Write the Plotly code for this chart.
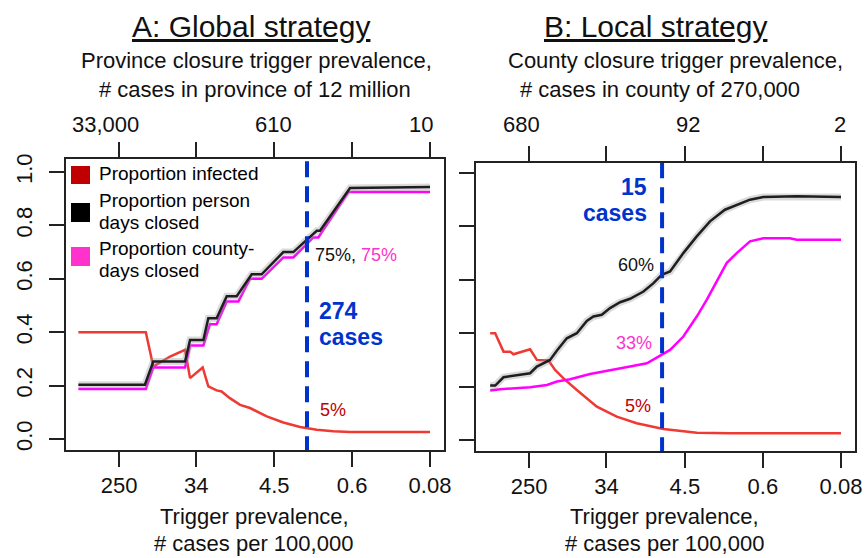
import plotly.graph_objects as go

FONT = "Liberation Sans, Arial, sans-serif"
W, H = 865, 558

# ---------------- data (trigger prevalence, # cases per 100,000) ----------------
# Panel A: global strategy
a_inf_x = [716, 125, 103, 66.8, 45.3, 39.8, 28.7, 24.8, 20.0, 17.6, 14.2, 10.9, 8.43, 5.47, 3.56, 2.31, 1.50, 0.977, 0.634, 0.08]
a_inf_y = [0.40, 0.40, 0.271, 0.309, 0.334, 0.228, 0.268, 0.197, 0.182, 0.178, 0.153, 0.128, 0.116, 0.085, 0.062, 0.045, 0.035, 0.029, 0.026, 0.026]

a_pd_x = [716, 128, 103, 45.3, 39.8, 28.2, 24.8, 20.0, 15.4, 11.9, 8.07, 6.24, 3.56, 2.75, 1.50, 1.38, 0.634, 0.08]
a_pd_y = [0.203, 0.203, 0.29, 0.29, 0.371, 0.371, 0.452, 0.452, 0.535, 0.535, 0.617, 0.617, 0.70, 0.70, 0.78, 0.78, 0.94, 0.944]

a_cd_x = [716, 125, 103, 45.3, 39.8, 28.2, 23.8, 20.0, 15.4, 11.4, 8.43, 6.24, 3.56, 2.75, 1.64, 1.44, 0.662, 0.08]
a_cd_y = [0.187, 0.187, 0.268, 0.268, 0.35, 0.35, 0.43, 0.43, 0.515, 0.515, 0.60, 0.60, 0.68, 0.68, 0.755, 0.755, 0.925, 0.925]

# Panel B: local strategy
b_inf_x = [684, 601, 485, 408, 375, 290, 244, 205, 173, 152, 128, 103, 73.1, 43.6, 26.1, 15.6, 7.83, 3.31, 1.40, 0.08]
b_inf_y = [0.40, 0.40, 0.331, 0.331, 0.321, 0.331, 0.34, 0.30, 0.30, 0.2975, 0.2625, 0.231, 0.1875, 0.125, 0.0875, 0.0625, 0.041, 0.0275, 0.025, 0.025]

b_pd_x = [684, 601, 485, 391, 244, 205, 166, 146, 122, 94.7, 73.1, 56.5, 47.6, 38.4, 31.0, 23.9, 18.5, 13.1, 10.1, 8.17, 6.59, 4.68, 3.31, 2.35, 1.60, 1.18, 0.837, 0.594, 0.251, 0.08]
b_pd_y = [0.204, 0.204, 0.235, 0.24, 0.25, 0.275, 0.29, 0.30, 0.335, 0.381, 0.40, 0.446, 0.4625, 0.469, 0.494, 0.516, 0.529, 0.556, 0.5875, 0.619, 0.631, 0.70, 0.7625, 0.819, 0.8625, 0.881, 0.90, 0.91, 0.9125, 0.91]

b_cd_x = [684, 528, 244, 158, 122, 86.9, 51.9, 28.4, 18.5, 12.0, 9.29, 6.59, 4.68, 3.31, 2.56, 1.98, 1.53, 1.18, 0.837, 0.594, 0.299, 0.251, 0.08]
b_cd_y = [0.185, 0.19, 0.1975, 0.206, 0.219, 0.2275, 0.2475, 0.2625, 0.275, 0.2875, 0.31, 0.3375, 0.3875, 0.4625, 0.525, 0.594, 0.6625, 0.70, 0.744, 0.756, 0.756, 0.75, 0.75]

# chosen trigger thresholds (per 100,000)
a_threshold = 1.93
b_threshold = 8.1

# tick labels
bottom_tickvals = [250, 34, 4.5, 0.6, 0.08]
bottom_ticktext = ["250", "34", "4.5", "0.6", "0.08"]
a_top_ticktext = ["33,000", "610", "10"]
b_top_ticktext = ["680", "92", "2"]
y_tickvals = [0, 0.2, 0.4, 0.6, 0.8, 1.0]
y_ticktext = ["0.0", "0.2", "0.4", "0.6", "0.8", "1.0"]

legend_labels = [["Proportion infected"],
                 ["Proportion person", "days closed"],
                 ["Proportion county-", "days closed"]]
legend_colors = ["#c00000", "#000000", "#ff33cc"]

RED_LINE = "#ee3a33"
BLACK_LINE = "#1e1e1e"
MAG_LINE = "#ff00ff"
BLUE = "#0033cc"


def px(x):
    return x / W


def py(y):
    return 1 - y / H


fig = go.Figure()


def add_line(x, y, color, xa, ya, width=2.5, halo=False):
    if halo:
        fig.add_trace(go.Scatter(x=x, y=y, mode="lines", xaxis=xa, yaxis=ya,
                                 line=dict(color="rgba(150,150,150,0.35)", width=7),
                                 showlegend=False, hoverinfo="skip"))
    fig.add_trace(go.Scatter(x=x, y=y, mode="lines", xaxis=xa, yaxis=ya,
                             line=dict(color=color, width=width),
                             showlegend=False, hoverinfo="skip"))


# Panel A
add_line(a_inf_x, a_inf_y, RED_LINE, "x", "y")
add_line(a_cd_x, a_cd_y, MAG_LINE, "x", "y")
add_line(a_pd_x, a_pd_y, BLACK_LINE, "x", "y", halo=True)
fig.add_trace(go.Scatter(x=[a_threshold, a_threshold], y=[-0.05, 1.08], mode="lines",
                         xaxis="x", yaxis="y", line=dict(color=BLUE, width=4, dash="16px,9px"),
                         showlegend=False, hoverinfo="skip"))
# Panel B
add_line(b_inf_x, b_inf_y, RED_LINE, "x2", "y2")
add_line(b_cd_x, b_cd_y, MAG_LINE, "x2", "y2")
add_line(b_pd_x, b_pd_y, BLACK_LINE, "x2", "y2", halo=True)
fig.add_trace(go.Scatter(x=[b_threshold, b_threshold], y=[-0.05, 1.08], mode="lines",
                         xaxis="x2", yaxis="y2", line=dict(color=BLUE, width=4, dash="16px,9px"),
                         showlegend=False, hoverinfo="skip"))

AXCOL = "#222222"
xcommon = dict(type="log", range=[2.994, -1.254], tickvals=bottom_tickvals, ticktext=bottom_ticktext,
               ticks="outside", ticklen=15, tickwidth=1.6, tickcolor=AXCOL,
               showline=True, linecolor=AXCOL, linewidth=1.8, mirror="ticks",
               showgrid=False, zeroline=False, automargin=False,
               tickfont=dict(family=FONT, size=22, color="#111111"))
ycommon = dict(tickvals=y_tickvals, ticktext=y_ticktext, ticks="outside", ticklen=15,
               tickwidth=1.6, tickcolor=AXCOL, showline=True, linecolor=AXCOL, linewidth=1.8,
               mirror=True, showgrid=False, zeroline=False, tickangle=-90, automargin=False,
               tickfont=dict(family=FONT, size=22, color="#111111"))

fig.update_layout(
    width=W, height=H, margin=dict(l=0, r=0, t=0, b=0),
    paper_bgcolor="white", plot_bgcolor="white", showlegend=False,
    xaxis=dict(domain=[px(66), px(444)], anchor="y", **xcommon),
    yaxis=dict(domain=[py(450), py(159)], anchor="x", range=[-0.0412, 1.0487],
               ticklabelstandoff=8, **ycommon),
    xaxis2=dict(domain=[px(476), px(855)], anchor="y2", **xcommon),
    yaxis2=dict(domain=[py(451), py(163)], anchor="x2", range=[-0.0412, 1.0375],
                showticklabels=False, **ycommon),
)

ann = []


def text(x, y, s, size=22, color="#111111", xanchor="center", bold=False):
    if bold:
        s = "<b>" + s + "</b>"
    ann.append(dict(x=px(x), y=py(y), xref="paper", yref="paper", text=s, showarrow=False,
                    xanchor=xanchor, yanchor="middle",
                    font=dict(family=FONT, size=size, color=color)))


# titles
text(251, 27, "<u>A: Global strategy</u>", size=30)
text(655, 27, "<u>B: Local strategy</u>", size=30)
text(256, 61, "Province closure trigger prevalence,")
text(255, 89, "# cases in province of 12 million")
text(675, 61, "County closure trigger prevalence,")
text(660, 89, "# cases in county of 270,000")

# top tick labels (case counts)
a_top_px = [105, 273, 421]
b_top_px = [521, 688, 840]
for xp, t in zip(a_top_px, a_top_ticktext):
    text(xp, 125, t)
for xp, t in zip(b_top_px, b_top_ticktext):
    text(xp, 125, t)

# bottom axis titles
text(254, 516, "Trigger prevalence,")
text(253, 543, "# cases per 100,000")
text(664, 516, "Trigger prevalence,")
text(664, 543, "# cases per 100,000")

# legend (inside panel A)
leg_rows = [[174], [200, 222], [248, 270]]
sq_y = [(166, 184), (203, 222), (247, 266)]
shapes = []
for lab, col, rows, (y0, y1) in zip(legend_labels, legend_colors, leg_rows, sq_y):
    shapes.append(dict(type="rect", xref="paper", yref="paper", x0=px(71), x1=px(90),
                       y0=py(y1), y1=py(y0), fillcolor=col, line=dict(width=0)))
    for line_text, yy in zip(lab, rows):
        text(97, yy, line_text, size=19, color="#000000", xanchor="left")

# panel A annotations
text(313, 255, "75%, <span style='color:#ff33cc'>75%</span>", size=18, color="#111111", xanchor="left")
text(317, 311, "274", size=23, color=BLUE, xanchor="left", bold=True)
text(317, 337, "cases", size=23, color=BLUE, xanchor="left", bold=True)
text(318, 410, "5%", size=18, color="#c00000", xanchor="left")

# panel B annotations
text(649, 187, "15", size=23, color=BLUE, xanchor="right", bold=True)
text(649, 213, "cases", size=23, color=BLUE, xanchor="right", bold=True)
text(656, 265, "60%", size=18, color="#111111", xanchor="right")
text(654, 343, "33%", size=18, color="#ff33cc", xanchor="right")
text(653, 406, "5%", size=18, color="#c00000", xanchor="right")

fig.update_layout(annotations=ann, shapes=shapes)
fig.write_html("out.html", config={"displayModeBar": False},
               post_script="document.body.style.margin='0';document.body.style.padding='0';")
